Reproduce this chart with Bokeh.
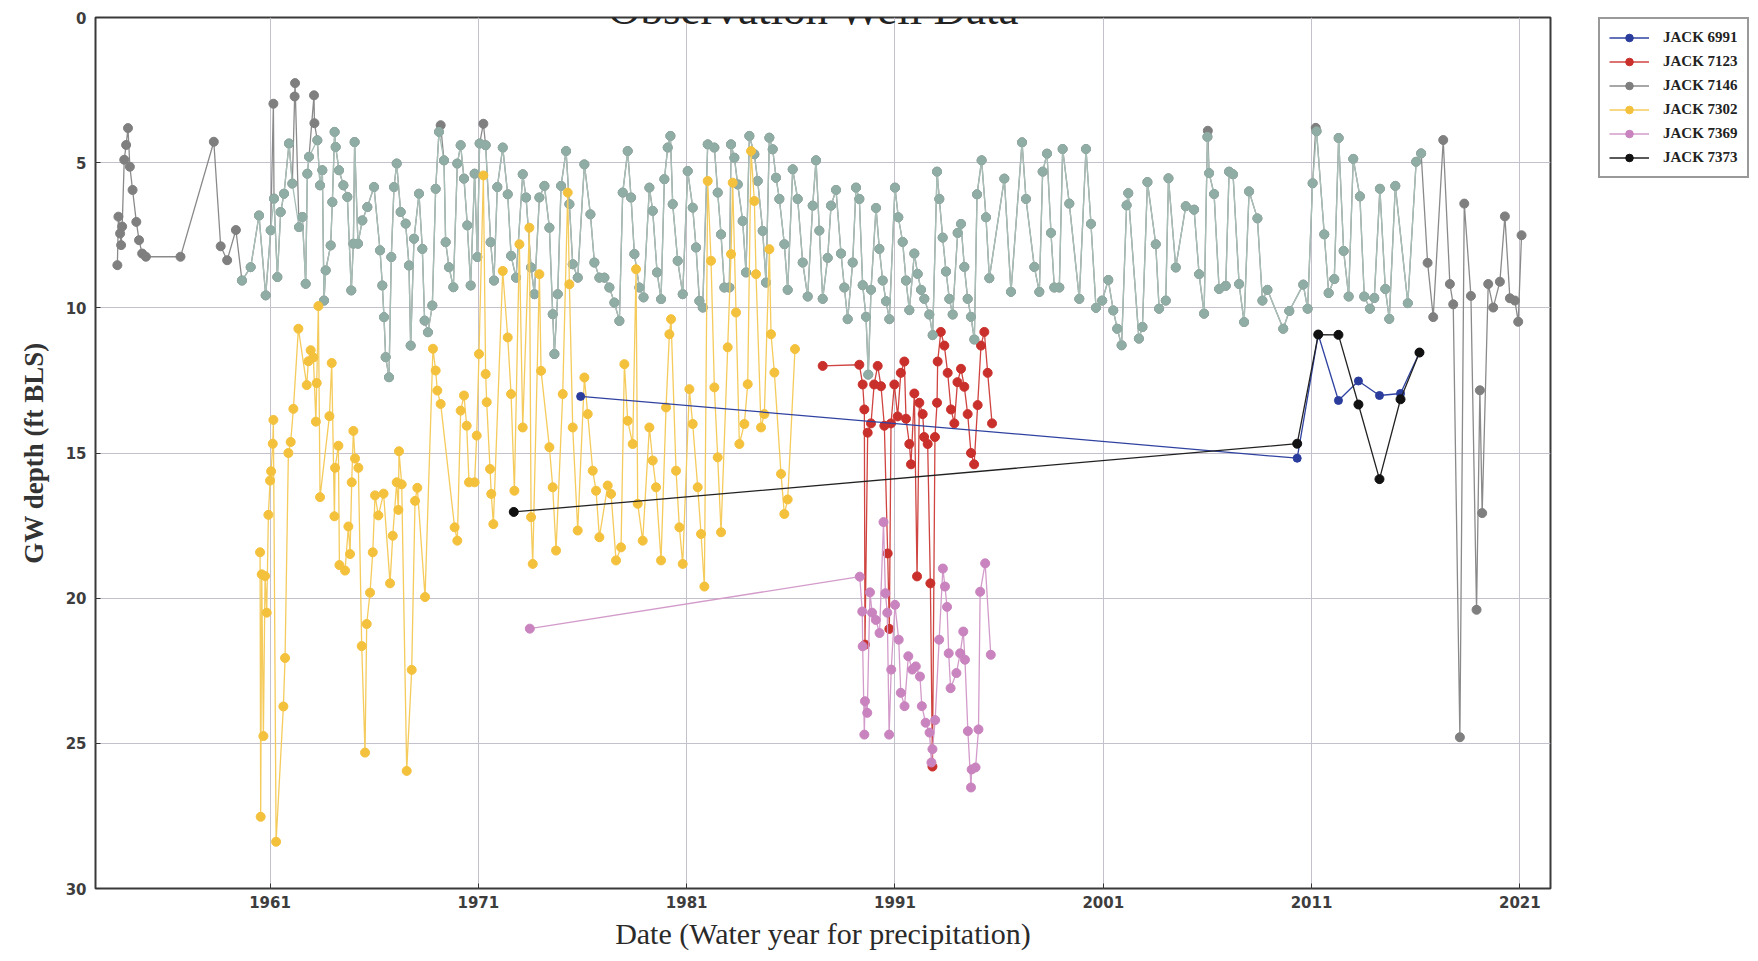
from bokeh.plotting import figure
from bokeh.layouts import row
from bokeh.models import Range1d, FixedTicker, Legend, LegendItem, Label, ColumnDataSource
from bokeh.embed import file_html
from bokeh.resources import INLINE

# ---------------- data ----------------
x_ticks = [1961, 1971, 1981, 1991, 2001, 2011, 2021]
y_ticks = [0, 5, 10, 15, 20, 25, 30]

well_6991_year = [1975.91, 2010.31, 2011.32, 2012.29, 2013.25, 2014.26, 2015.27, 2016.18]
well_6991_depth = [13.05, 15.18, 10.92, 13.19, 12.52, 13.02, 12.95, 11.54]

well_7373_year = [1972.70, 2010.31, 2011.32, 2012.29, 2013.25, 2014.26, 2015.27, 2016.18]
well_7373_depth = [17.03, 14.68, 10.92, 10.93, 13.33, 15.90, 13.15, 11.54]

well_7123_year = [1987.53, 1989.29, 1989.45, 1989.53, 1989.56, 1989.69, 1989.85, 1990.00, 1990.17,
                  1990.33, 1990.49, 1990.65, 1990.73, 1990.81, 1990.97, 1991.13, 1991.28, 1991.45,
                  1991.53, 1991.69, 1991.77, 1991.93, 1992.06, 1992.17, 1992.33, 1992.40, 1992.57,
                  1992.70, 1992.80, 1992.92, 1993.02, 1993.05, 1993.20, 1993.37, 1993.53, 1993.69,
                  1993.85, 1994.00, 1994.17, 1994.33, 1994.49, 1994.65, 1994.80, 1994.97, 1995.13,
                  1995.29, 1995.45, 1995.66]
well_7123_depth = [12.0, 11.96, 12.64, 13.5, 21.6, 14.3, 13.98, 12.64, 12.0,
                   12.7, 14.06, 18.46, 21.06, 13.98, 12.64, 13.74, 12.24, 11.85,
                   13.82, 14.69, 15.39, 12.95, 19.25, 13.27, 13.66, 14.45, 14.69,
                   19.49, 25.8, 14.45, 13.27, 11.85, 10.83, 11.3, 12.24, 13.5,
                   13.98, 12.56, 12.1, 12.72, 13.66, 15.0, 15.39, 13.35, 11.3,
                   10.83, 12.24, 13.98]

well_7369_year = [1973.47, 1989.31, 1989.43, 1989.45, 1989.53, 1989.56, 1989.67, 1989.80, 1989.90,
                  1990.08, 1990.26, 1990.45, 1990.54, 1990.63, 1990.72, 1990.82, 1991.00, 1991.18,
                  1991.28, 1991.46, 1991.64, 1991.83, 1992.00, 1992.20, 1992.29, 1992.47, 1992.66,
                  1992.75, 1992.80, 1992.93, 1993.12, 1993.30, 1993.40, 1993.50, 1993.58, 1993.67,
                  1993.95, 1994.13, 1994.28, 1994.36, 1994.50, 1994.65, 1994.68, 1994.87, 1995.01,
                  1995.09, 1995.33, 1995.60]
well_7369_depth = [21.05, 19.26, 20.46, 21.66, 24.7, 23.55, 23.95, 19.8, 20.5,
                   20.75, 21.2, 17.38, 19.83, 20.5, 24.7, 22.46, 20.23, 21.43,
                   23.26, 23.72, 22.0, 22.46, 22.35, 22.7, 23.72, 24.29, 24.63,
                   25.66, 25.2, 24.2, 21.43, 18.98, 19.6, 20.3, 21.9, 23.1,
                   22.58, 21.9, 21.15, 22.12, 24.58, 26.52, 25.9, 25.83, 24.52,
                   19.78, 18.8, 21.95]

well_7146_early_year = [1953.67, 1953.72, 1953.80, 1953.85, 1953.90, 1954.00, 1954.09, 1954.18, 1954.27,
                        1954.40, 1954.58, 1954.71, 1954.86, 1955.04, 1956.70, 1958.30, 1958.63, 1958.94,
                        1959.36]
well_7146_early_depth = [8.53, 6.86, 7.44, 7.84, 7.2, 4.9, 4.39, 3.81, 5.14,
                         5.94, 7.04, 7.67, 8.13, 8.24, 8.24, 4.28, 7.88, 8.36,
                         7.32]

well_7146_peak_year = [1961.16, 1962.18, 1962.20, 1963.11, 1963.13, 1969.19, 1971.24, 2006.02, 2011.20]
well_7146_peak_depth = [2.97, 2.72, 2.26, 2.68, 3.64, 3.71, 3.66, 3.90, 3.80]

well_7146_late_year = [2016.57, 2016.84, 2017.32, 2017.64, 2017.80, 2018.12, 2018.33, 2018.65, 2018.92,
                       2019.08, 2019.19, 2019.48, 2019.72, 2020.04, 2020.28, 2020.52, 2020.76, 2020.92,
                       2021.08]
well_7146_late_depth = [8.45, 10.32, 4.22, 9.18, 9.88, 24.79, 6.41, 9.59, 20.4,
                        12.84, 17.07, 9.18, 9.99, 9.1, 6.85, 9.67, 9.75, 10.48,
                        7.5]

# middle stretch of the record, drawn in a greenish grey over the grey series
well_mid_year = [
    1959.65, 1960.07, 1960.47, 1960.79, 1961.03, 1961.19, 1961.35, 1961.51, 1961.67, 1961.91,
    1962.07, 1962.39, 1962.55, 1962.71, 1962.79, 1962.87, 1963.27, 1963.40, 1963.51, 1963.59,
    1963.67, 1963.91, 1963.99, 1964.10, 1964.15, 1964.31, 1964.52, 1964.71, 1964.90, 1965.00,
    1965.06, 1965.22, 1965.43, 1965.67, 1965.99, 1966.28, 1966.39, 1966.47, 1966.55, 1966.71,
    1966.82, 1966.95, 1967.08, 1967.27, 1967.51, 1967.67, 1967.75, 1967.91, 1968.15, 1968.31,
    1968.42, 1968.58, 1968.79, 1968.95, 1969.11, 1969.35, 1969.43, 1969.59, 1969.80, 1969.99,
    1970.15, 1970.31, 1970.47, 1970.63, 1970.82, 1970.95, 1971.06, 1971.35, 1971.59, 1971.75,
    1971.91, 1972.17, 1972.41, 1972.57, 1972.81, 1973.13, 1973.29, 1973.53, 1973.69, 1973.93,
    1974.17, 1974.41, 1974.57, 1974.65, 1974.81, 1974.97, 1975.21, 1975.37, 1975.53, 1975.77,
    1976.09, 1976.38, 1976.57, 1976.81, 1977.05, 1977.29, 1977.53, 1977.77, 1977.93, 1978.17,
    1978.33, 1978.49, 1978.73, 1978.93, 1979.21, 1979.37, 1979.58, 1979.77, 1979.93, 1980.09,
    1980.22, 1980.33, 1980.57, 1980.81, 1981.05, 1981.29, 1981.45, 1981.61, 1981.77, 1982.01,
    1982.33, 1982.49, 1982.65, 1982.81, 1983.05, 1983.13, 1983.29, 1983.45, 1983.69, 1983.85,
    1984.01, 1984.25, 1984.41, 1984.65, 1984.81, 1984.97, 1985.13, 1985.29, 1985.45, 1985.69,
    1985.85, 1986.09, 1986.33, 1986.57, 1986.81, 1987.05, 1987.21, 1987.37, 1987.53, 1987.77,
    1987.93, 1988.17, 1988.41, 1988.57, 1988.73, 1988.97, 1989.13, 1989.29, 1989.45, 1989.61,
    1989.72, 1989.85, 1990.09, 1990.25, 1990.41, 1990.57, 1990.73, 1991.00, 1991.16, 1991.37,
    1991.53, 1991.69, 1991.93, 1992.09, 1992.25, 1992.41, 1992.65, 1992.81, 1993.02, 1993.13,
    1993.29, 1993.45, 1993.61, 1993.77, 1994.01, 1994.17, 1994.33, 1994.49, 1994.65, 1994.81,
    1994.94, 1995.16, 1995.37, 1995.53, 1996.25, 1996.57, 1997.10, 1997.29, 1997.69, 1997.93,
    1998.09, 1998.30, 1998.49, 1998.65, 1998.89, 1999.05, 1999.37, 1999.85, 2000.17, 2000.41,
    2000.65, 2000.95, 2001.24, 2001.48, 2001.67, 2001.88, 2002.12, 2002.20, 2002.71, 2002.88,
    2003.12, 2003.52, 2003.68, 2004.00, 2004.13, 2004.48, 2004.96, 2005.36, 2005.60, 2005.84,
    2006.00, 2006.08, 2006.32, 2006.56, 2006.88, 2007.04, 2007.23, 2007.52, 2007.76, 2008.00,
    2008.40, 2008.64, 2008.88, 2009.64, 2009.93, 2010.60, 2010.81, 2011.05, 2011.24, 2011.61,
    2011.82, 2012.09, 2012.30, 2012.54, 2012.78, 2013.00, 2013.32, 2013.53, 2013.80, 2014.01,
    2014.28, 2014.54, 2014.73, 2015.02, 2015.62, 2016.02, 2016.26]
well_mid_depth = [
    9.06, 8.6, 6.82, 9.57, 7.33, 6.24, 8.94, 6.7, 6.07, 4.34,
    5.72, 7.22, 6.87, 9.17, 5.38, 4.8, 4.23, 5.78, 5.26, 9.75,
    8.71, 7.85, 6.36, 3.94, 4.46, 5.26, 5.78, 6.18, 9.4, 7.79,
    4.29, 7.79, 6.99, 6.53, 5.84, 8.02, 9.23, 10.32, 11.7, 12.39,
    8.25, 5.84, 5.03, 6.7, 7.1, 8.54, 11.3, 7.62, 6.07, 7.97,
    10.44, 10.84, 9.92, 5.9, 3.94, 4.92, 7.74, 8.6, 9.29, 5.03,
    4.4, 5.55, 7.16, 9.23, 5.38, 8.25, 4.34, 4.4, 7.74, 9.06,
    5.84, 4.48, 6.09, 8.21, 8.96, 5.4, 6.2, 8.61, 9.53, 6.2,
    5.8, 7.24, 10.22, 11.59, 9.53, 5.8, 4.6, 6.43, 8.5, 8.96,
    5.06, 6.78, 8.44, 8.96, 8.96, 9.3, 9.82, 10.45, 6.03, 4.6,
    6.2, 8.15, 9.3, 9.64, 5.86, 6.66, 8.78, 9.7, 5.57, 4.48,
    4.08, 6.43, 8.38, 9.53, 5.29, 6.55, 7.92, 9.76, 9.99, 4.37,
    4.48, 6.03, 7.47, 9.3, 9.3, 4.37, 4.83, 5.75, 7.01, 8.78,
    4.08, 4.71, 5.63, 7.35, 9.13, 4.14, 4.54, 5.52, 6.25, 7.81,
    9.38, 5.23, 6.25, 8.44, 9.61, 6.48, 4.92, 7.34, 9.69, 8.28,
    6.48, 5.94, 8.13, 9.3, 10.39, 8.44, 5.86, 6.25, 9.22, 10.31,
    12.3, 9.38, 6.56, 7.97, 9.06, 9.77, 10.39, 5.86, 6.88, 7.73,
    9.06, 10.08, 8.13, 8.83, 9.38, 9.69, 10.23, 10.94, 5.31, 6.25,
    7.58, 8.75, 9.69, 10.23, 7.42, 7.11, 8.59, 9.69, 10.31, 11.09,
    6.09, 4.92, 6.88, 8.98, 5.55, 9.45, 4.3, 6.25, 8.59, 9.45,
    5.31, 4.69, 7.42, 9.3, 9.3, 4.53, 6.41, 9.69, 4.53, 7.11,
    10.0, 9.75, 9.04, 10.09, 10.72, 11.29, 6.47, 6.05, 11.06, 10.66,
    5.67, 7.81, 10.03, 9.75, 5.54, 8.61, 6.5, 6.62, 8.84, 10.2,
    4.11, 5.36, 6.08, 9.35, 9.24, 5.31, 5.4, 9.18, 10.49, 5.99,
    6.92, 9.75, 9.38, 10.72, 10.11, 9.2, 10.03, 5.71, 3.92, 7.47,
    9.49, 9.01, 4.15, 8.04, 9.61, 4.87, 6.16, 9.61, 10.03, 9.66,
    5.9, 9.35, 10.38, 5.8, 9.84, 4.97, 4.68]

well_7302_year = [
    1960.52, 1960.55, 1960.60, 1960.68, 1960.76, 1960.84, 1960.92, 1961.00, 1961.05, 1961.13,
    1961.16, 1961.29, 1961.64, 1961.72, 1961.88, 1961.99, 1962.12, 1962.36, 1962.76, 1962.84,
    1962.95, 1963.08, 1963.20, 1963.24, 1963.32, 1963.40, 1963.85, 1963.96, 1964.09, 1964.12,
    1964.28, 1964.33, 1964.60, 1964.76, 1964.84, 1964.92, 1965.00, 1965.08, 1965.24, 1965.40,
    1965.56, 1965.64, 1965.80, 1965.93, 1966.04, 1966.20, 1966.45, 1966.76, 1966.89, 1967.08,
    1967.16, 1967.19, 1967.32, 1967.56, 1967.80, 1967.96, 1968.07, 1968.44, 1968.82, 1968.95,
    1969.03, 1969.19, 1969.86, 1969.99, 1970.15, 1970.31, 1970.44, 1970.55, 1970.82, 1970.92,
    1971.03, 1971.24, 1971.35, 1971.40, 1971.56, 1971.62, 1971.72, 1972.17, 1972.41, 1972.57,
    1972.73, 1972.97, 1973.13, 1973.45, 1973.53, 1973.61, 1973.93, 1974.01, 1974.41, 1974.57,
    1974.73, 1975.05, 1975.29, 1975.37, 1975.53, 1975.77, 1976.09, 1976.25, 1976.49, 1976.65,
    1976.81, 1977.21, 1977.37, 1977.61, 1977.85, 1978.01, 1978.17, 1978.41, 1978.57, 1978.65,
    1978.89, 1979.21, 1979.37, 1979.53, 1979.77, 1980.01, 1980.17, 1980.25, 1980.49, 1980.65,
    1980.81, 1981.13, 1981.29, 1981.53, 1981.69, 1981.85, 1982.01, 1982.17, 1982.33, 1982.49,
    1982.65, 1982.97, 1983.13, 1983.21, 1983.37, 1983.53, 1983.77, 1983.93, 1984.09, 1984.25,
    1984.33, 1984.57, 1984.73, 1984.97, 1985.05, 1985.21, 1985.53, 1985.69, 1985.85, 1986.20]
well_7302_depth = [
    18.42, 27.53, 19.18, 24.75, 19.24, 20.5, 17.13, 15.95, 15.63, 14.68,
    13.86, 28.39, 23.73, 22.06, 15.0, 14.62, 13.48, 10.72, 12.66, 11.84,
    11.46, 11.71, 13.92, 12.59, 9.94, 16.52, 13.73, 11.9, 17.18, 15.51,
    14.75, 18.86, 19.05, 17.53, 18.48, 16.01, 14.24, 15.19, 15.51, 21.65,
    25.32, 20.89, 19.81, 18.42, 16.46, 17.15, 16.4, 19.49, 17.85, 16.01,
    16.96, 14.94, 16.08, 25.95, 22.47, 16.65, 16.2, 19.96, 11.41, 12.16,
    12.85, 13.31, 17.56, 18.02, 13.54, 13.02, 14.06, 16.01, 16.01, 14.4,
    11.59, 5.44, 12.28, 13.25, 15.55, 16.41, 17.45, 8.73, 11.02, 12.97,
    16.3, 7.81, 14.12, 7.24, 17.21, 18.82, 8.84, 12.17, 14.8, 16.18,
    18.36, 12.97, 6.03, 9.19, 14.12, 17.67, 12.4, 13.66, 15.61, 16.3,
    17.9, 16.12, 16.41, 18.7, 18.25, 11.94, 13.89, 14.69, 8.67, 16.75,
    18.02, 14.12, 15.26, 16.18, 18.7, 13.43, 10.91, 10.39, 15.61, 17.56,
    18.82, 12.8, 14.0, 16.18, 17.79, 19.6, 5.63, 8.38, 12.74, 15.15,
    17.73, 11.36, 8.15, 5.69, 10.16, 14.69, 14.0, 12.63, 4.6, 6.32,
    8.84, 14.12, 13.66, 7.98, 10.91, 12.23, 15.72, 17.1, 16.6, 11.42]

# grey series: early record + middle record (with its shallow peaks) + late record
_mid_pairs = sorted(list(zip(well_mid_year, well_mid_depth)) + list(zip(well_7146_peak_year, well_7146_peak_depth)))
well_7146_year = well_7146_early_year + [a for a, b in _mid_pairs] + well_7146_late_year
well_7146_depth = well_7146_early_depth + [b for a, b in _mid_pairs] + well_7146_late_depth

series_names = ["JACK 6991", "JACK 7123", "JACK 7146", "JACK 7302", "JACK 7369", "JACK 7373"]
series_colors = {"JACK 6991": ("#2a3d9c", "#2f42a0"), "JACK 7123": ("#c9302c", "#cf4440"),
                 "JACK 7146": ("#7f7f7f", "#8a8a8a"), "JACK 7302": ("#f4c13d", "#f5cb5c"),
                 "JACK 7369": ("#c983be", "#d39bca"), "JACK 7373": ("#111111", "#222222")}
mid_colors = ("#8fada4", "#a8bfb8")

# ---------------- main figure ----------------
W, H = 1555, 958
FRAME_L, FRAME_R, FRAME_T, FRAME_B = 95, 1550, 17, 888

p = figure(width=W, height=H, output_backend="svg", toolbar_location=None,
           x_range=Range1d(1952.62, 2022.47), y_range=Range1d(30, 0),
           min_border_left=FRAME_L, min_border_right=W - FRAME_R,
           min_border_top=FRAME_T, min_border_bottom=H - FRAME_B)
p.background_fill_color = "white"
p.border_fill_color = "white"
p.outline_line_color = "#3a3a3a"
p.outline_line_width = 2

sources = {}
def add_series(fig, key, year, depth, colors, size=9):
    src = ColumnDataSource(dict(x=year, y=depth))
    fig.line("x", "y", source=src, line_color=colors[1], line_width=1.3)
    fig.scatter("x", "y", source=src, marker="circle", size=size,
                fill_color=colors[0], line_color=colors[0])
    sources[key] = src

add_series(p, "JACK 7123", well_7123_year, well_7123_depth, series_colors["JACK 7123"])
add_series(p, "JACK 7146", well_7146_year, well_7146_depth, series_colors["JACK 7146"])
add_series(p, "mid", well_mid_year, well_mid_depth, mid_colors)
add_series(p, "JACK 7302", well_7302_year, well_7302_depth, series_colors["JACK 7302"])
add_series(p, "JACK 7369", well_7369_year, well_7369_depth, series_colors["JACK 7369"])
add_series(p, "JACK 6991", well_6991_year, well_6991_depth, series_colors["JACK 6991"], size=8)
add_series(p, "JACK 7373", well_7373_year, well_7373_depth, series_colors["JACK 7373"])

for ax in (p.xaxis[0], p.yaxis[0]):
    ax.axis_line_color = None
    ax.major_tick_in = 5
    ax.major_tick_out = 0
    ax.minor_tick_line_color = None
    ax.major_tick_line_color = "#333333"
    ax.major_label_text_font = "DejaVu Sans"
    ax.major_label_text_font_style = "bold"
    ax.major_label_text_font_size = "15px"
    ax.major_label_text_color = "#3d3d3d"

p.xaxis.ticker = FixedTicker(ticks=x_ticks)
p.yaxis.ticker = FixedTicker(ticks=y_ticks)
p.xgrid.ticker = FixedTicker(ticks=x_ticks)
p.ygrid.ticker = FixedTicker(ticks=y_ticks)
p.xgrid.grid_line_color = "#c4c0cc"
p.ygrid.grid_line_color = "#c4c0cc"
p.xaxis.major_label_standoff = 7
p.yaxis.major_label_standoff = 9

p.xaxis.axis_label = "Date (Water year for precipitation)"
p.xaxis.axis_label_text_font = "Liberation Serif"
p.xaxis.axis_label_text_font_size = "30px"
p.xaxis.axis_label_text_font_style = "normal"
p.xaxis.axis_label_text_color = "#2a2a2a"
p.xaxis.axis_label_standoff = 6

p.yaxis.axis_label = "GW depth (ft BLS)"
p.yaxis.axis_label_text_font = "Liberation Serif"
p.yaxis.axis_label_text_font_size = "27px"
p.yaxis.axis_label_text_font_style = "bold"
p.yaxis.axis_label_text_color = "#333333"
p.yaxis.axis_label_standoff = 14

# title (mostly cut off at the top in the source)
p.add_layout(Label(x=1987.1, y=FRAME_B - FRAME_T + 9, x_units="data", y_units="screen",
                   text="Observation Well Data", text_font="Liberation Serif",
                   text_font_size="45px", text_align="center",
                   text_baseline="alphabetic", text_color="#222222"))

# ---------------- legend panel ----------------
lf = figure(width=200, height=400, output_backend="svg", toolbar_location=None,
            x_range=Range1d(0, 1), y_range=Range1d(0, 1),
            min_border_left=43, min_border_top=17, min_border_right=0, min_border_bottom=0,
            x_axis_location=None, y_axis_location=None)
lf.grid.visible = False
lf.outline_line_color = None
lf.background_fill_color = "white"
lf.border_fill_color = "white"

items = []
for name in series_names:
    c = series_colors[name]
    # same data as the main plot; it lies outside this panel's ranges, only the legend shows
    gl = lf.line("x", "y", source=sources[name], line_color=c[1], line_width=1.5)
    gs = lf.scatter("x", "y", source=sources[name], marker="circle", size=9,
                    fill_color=c[0], line_color=c[0])
    items.append(LegendItem(label=name, renderers=[gl, gs]))

legend = Legend(items=items, location="top_left")
legend.label_text_font = "Liberation Serif"
legend.label_text_font_style = "bold"
legend.label_text_font_size = "15px"
legend.label_text_color = "#222222"
legend.label_height = 19
legend.glyph_height = 19
legend.glyph_width = 40
legend.spacing = 5
legend.padding = 9
legend.margin = 0
legend.label_standoff = 14
legend.border_line_color = "#333333"
legend.border_line_width = 2
legend.background_fill_color = "white"
legend.background_fill_alpha = 1.0
lf.add_layout(legend)

layout = row(p, lf)
open("out.html", "w").write(file_html(layout, INLINE))
